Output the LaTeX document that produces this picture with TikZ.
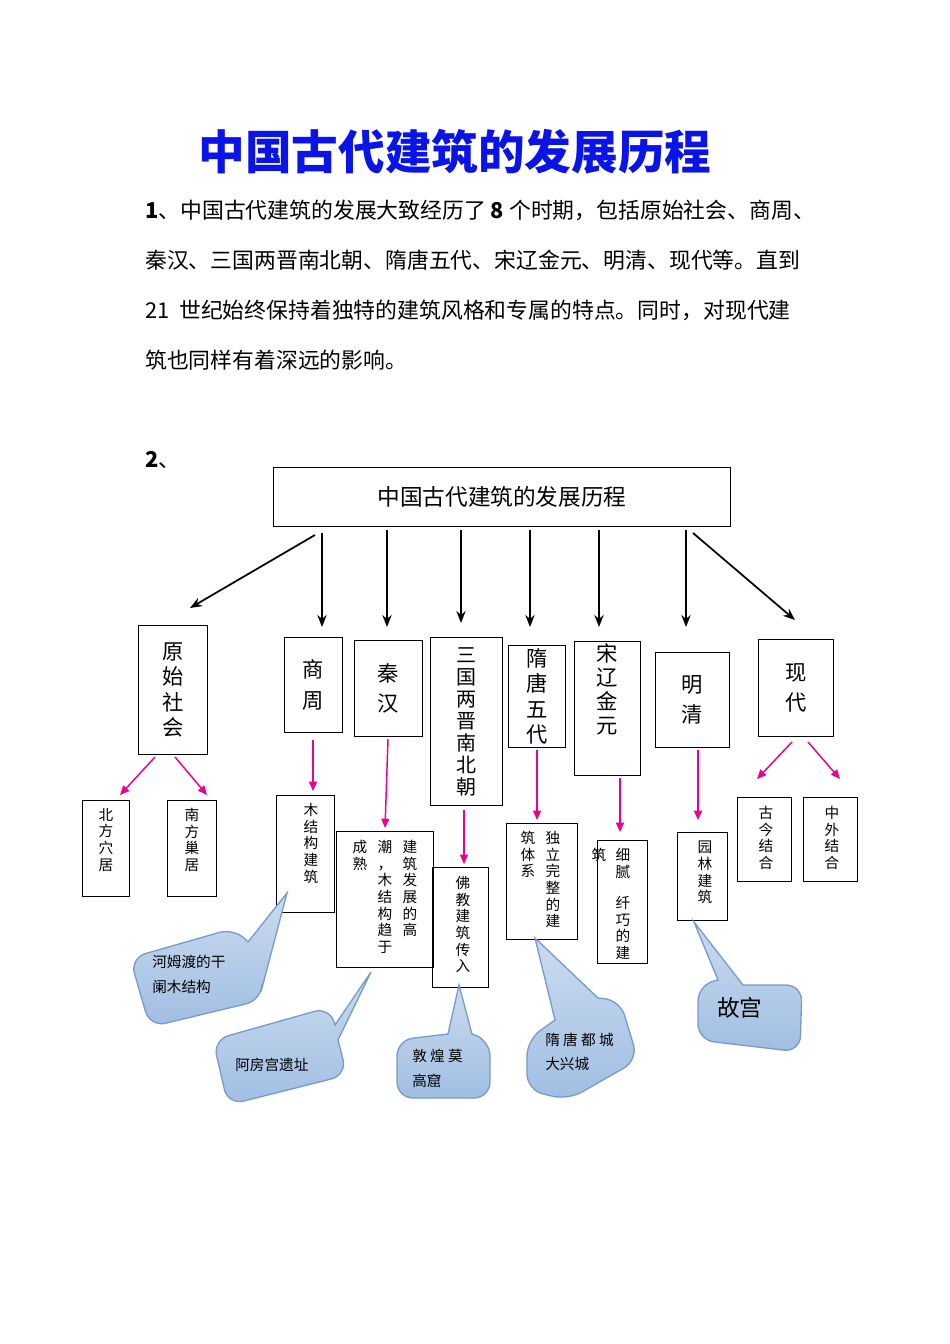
\documentclass[tikz,border=0pt]{standalone}
\usepackage{fontspec}
\setmainfont{Liberation Serif}
\newfontfamily\cjk{Noto Sans CJK SC}
\usetikzlibrary{arrows.meta}
\definecolor{calloutfill}{RGB}{160,190,226}
\definecolor{calloutline}{RGB}{120,155,205}
\newdimen\px \px=0.7484pt
\tikzset{
  box/.style={draw, thick, inner sep=0pt},
  col/.style={anchor=north, align=center, inner sep=0pt, font=\cjk\fontsize{11}{12.5}\selectfont},
  bigarrow/.style={-{Stealth[length=9pt,width=7pt]}, line width=1.3pt},
  pinkarrow/.style={-{Triangle[length=7pt,width=6pt]}, line width=1.1pt, magenta},
  callout/.style={draw=calloutline, line width=1pt, top color=calloutfill!55, bottom color=calloutfill, rounded corners=12pt},
  cotext/.style={anchor=west, inner sep=0pt, font=\cjk\fontsize{11}{14}\selectfont},
  para/.style={anchor=west, inner sep=0pt, font=\cjk\fontsize{16.4}{19}\selectfont},
}
\newcommand{\boxat}[6]{% name, x1, y1, x2, y2, text
  \node[box, minimum width={(#4-#2)*\px}, minimum height={(#5-#3)*\px}, font=\cjk\fontsize{16}{19}\selectfont, align=center]
    (#1) at ({(#2+#4)/2},{(#3+#5)/2}) {#6};}
\newcommand{\leafbox}[5]{% name, x1, y1, x2, y2
  \node[box, minimum width={(#4-#2)*\px}, minimum height={(#5-#3)*\px}] (#1) at ({(#2+#4)/2},{(#3+#5)/2}) {};}
\begin{document}
\begin{tikzpicture}[x=0.0264cm,y=-0.0264cm]
  \useasboundingbox[fill=white] (0,0) rectangle (950,1344);

  % title and paragraph
  \node[text={rgb,255:red,10;green,20;blue,230}, font=\cjk\bfseries\fontsize{35}{38}\selectfont] (title) at (455,152) {中国古代建筑的发展历程};
  \node[para] (line1) at (145,210) {\textbf{1}、中国古代建筑的发展大致经历了 \textbf{8} 个时期，包括原始社会、商周、};
  \node[para] (line2) at (145,260) {秦汉、三国两晋南北朝、隋唐五代、宋辽金元、明清、现代等。直到};
  \node[para] (line3) at (145,310) {21\ \ 世纪始终保持着独特的建筑风格和专属的特点。同时，对现代建};
  \node[para] (line4) at (145,360) {筑也同样有着深远的影响。};
  \node[para] (two) at (145,460) {\textbf{2}、};

  % root
  \node[box, minimum width=458\px, minimum height=59\px, font=\cjk\fontsize{17}{20}\selectfont] (root) at (502,497) {中国古代建筑的发展历程};

  % periods
  \boxat{yuanshi}{138}{625}{208}{755}{原\\始\\社\\会}
  \boxat{shangzhou}{284}{637}{343}{733}{商\\[4pt]周}
  \boxat{qinhan}{354}{640}{423}{737}{秦\\[4pt]汉}
  \node[box, minimum width=73\px, minimum height=169\px, align=center, font=\cjk\fontsize{15}{16.5}\selectfont]
    (sanguo) at (466.5,721.5) {三\\国\\两\\晋\\南\\北\\朝};
  \boxat{suitang}{508}{645}{566}{748}{隋\\唐\\五\\代}
  \node[box, minimum width=67\px, minimum height=135\px, align=center, font=\cjk\fontsize{16}{18}\selectfont]
    (songliao) at (607.5,708.5) {宋\\辽\\金\\元\\[12pt]};
  \boxat{mingqing}{655}{652}{730}{748}{明\\[4pt]清}
  \boxat{xiandai}{758}{639}{834}{737}{现\\[4pt]代}

  % black arrows
  \coordinate (yuanshi_in) at (190,608);
  \draw[bigarrow] (315,535) -- (yuanshi_in);
  \draw[bigarrow] (322,533) -- (322,627);
  \draw[bigarrow] (387,530) -- (387,627);
  \draw[bigarrow] (461,530) -- (461,623);
  \draw[bigarrow] (530,530) -- (530,627);
  \draw[bigarrow] (599,530) -- (599,627);
  \draw[bigarrow] (686,530) -- (686,627);
  \draw[bigarrow] (693,533) -- (795,620);

  % leaves
  \leafbox{beifang}{82}{800}{130}{897}
  \node[col] (beifang_t) at (106,808) {北\\方\\穴\\居};
  \leafbox{nanfang}{167}{800}{217}{897}
  \node[col] (nanfang_t) at (192,808) {南\\方\\巢\\居};
  \leafbox{mujiegou}{276}{795}{335}{913}
  \node[col] (mujiegou_t) at (311,803) {木\\结\\构\\建\\筑};
  \leafbox{qinhan_leaf}{336}{831}{434}{968}
  \node[col] (qh_c1) at (410,840) {建\\筑\\发\\展\\的\\高};
  \node[col] (qh_c2) at (385,840) {潮\\，\\木\\结\\构\\趋\\于};
  \node[col] (qh_c3) at (360,840) {成\\熟};
  \leafbox{fojiao}{432}{867}{489}{988}
  \node[col] (fojiao_t) at (463,876) {佛\\教\\建\\筑\\传\\入};
  \leafbox{suitang_leaf}{506}{823}{578}{940}
  \node[col] (st_c1) at (553,831) {独\\立\\完\\整\\的\\建};
  \node[col] (st_c2) at (528,831) {筑\\体\\系};
  \leafbox{songliao_leaf}{597}{840}{648}{964}
  \node[col] (sl_c1) at (623,848) {细\\腻\\[11pt]纤\\巧\\的\\建};
  \node[col] (sl_c2) at (599,848) {筑};
  \leafbox{yuanlin}{677}{832}{728}{921}
  \node[col] (yuanlin_t) at (705,841) {园\\林\\建\\筑};
  \leafbox{gujin}{737}{797}{792}{882}
  \node[col] (gujin_t) at (766,806) {古\\今\\结\\合};
  \leafbox{zhongwai}{803}{797}{858}{882}
  \node[col] (zhongwai_t) at (832,806) {中\\外\\结\\合};

  % pink arrows
  \draw[pinkarrow] (155,757) -- (120,795);
  \draw[pinkarrow] (175,757) -- (207,795);
  \draw[pinkarrow] (313,740) -- (313,791);
  \draw[pinkarrow] (388,739) -- (385,828);
  \draw[pinkarrow] (464,810) -- (464,864);
  \draw[pinkarrow] (537,750) -- (537,820);
  \draw[pinkarrow] (620,778) -- (620,832);
  \draw[pinkarrow] (698,750) -- (698,820);
  \draw[pinkarrow] (792,742) -- (757,779);
  \draw[pinkarrow] (808,742) -- (840,779);

  % callouts
  \path[callout] (130,958) -- (235,928) [sharp corners] -- (248,942) -- (287,893) -- (262,988) [rounded corners=12pt] -- (262,1000) -- (150,1027) -- cycle;
  \node[cotext] (hemudu) at (152,962) {河姆渡的干};
  \node[cotext] (hemudu2) at (152,987) {阑木结构};
  \path[callout] (213,1040) -- (330,1007) [sharp corners] -- (335,1025) -- (371,972) -- (338,1040) [rounded corners=12pt] -- (347,1075) -- (228,1105) -- cycle;
  \node[cotext] (efang) at (235,1065) {阿房宫遗址};
  \path[callout] (397,1040) [sharp corners] -- (448,1034) -- (459,985) -- (472,1034) [rounded corners=12pt] -- (490,1040) -- (490,1098) -- (397,1098) -- cycle;
  \node[cotext] (dunhuang) at (412,1056) {敦\ 煌\ 莫};
  \node[cotext] (dunhuang2) at (412,1081) {高窟};
  \path[callout] (527,1040) [sharp corners] -- (555,1020) -- (535,938) -- (598,998) [rounded corners=12pt] -- (620,1000) -- (638,1060) -- (568,1100) -- (527,1090) -- cycle;
  \node[cotext] (daxing) at (545,1040) {隋\ 唐\ 都\ 城};
  \node[cotext] (daxing2) at (545,1064) {大兴城};
  \path[callout] (698,985) [sharp corners] -- (718,980) -- (694,922) -- (743,985) [rounded corners=12pt] -- (802,985) -- (800,1052) -- (698,1040) -- cycle;
  \node[cotext, font=\cjk\fontsize{17}{20}\selectfont] (gugong) at (717,1008) {故宫};
\end{tikzpicture}
\end{document}
